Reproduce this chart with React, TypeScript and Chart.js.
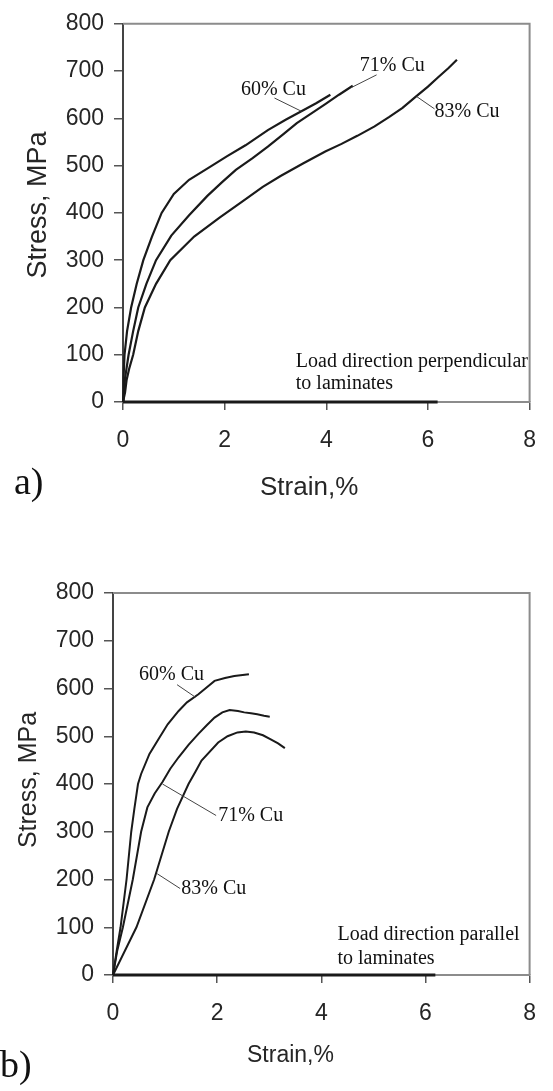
import React, { useEffect, useRef } from "react";
import { Chart, registerables } from "chart.js";

Chart.register(...registerables);

// ---------- axis ticks ----------
const strainTicks = [0, 2, 4, 6, 8];
const stressTicks = [0, 100, 200, 300, 400, 500, 600, 700, 800];

// ---------- a) load perpendicular to laminates ----------
const perp60Strain = [0, 0.01, 0.03, 0.08, 0.16, 0.27, 0.4, 0.57, 0.76, 1.0, 1.3, 1.72, 2.05, 2.41, 2.85, 3.2, 3.51, 3.8, 4.08];
const perp60Stress = [0, 50, 100, 150, 200, 250, 300, 350, 400, 440, 470, 498, 520, 543, 575, 597, 615, 632, 650];

const perp71Strain = [0, 0.04, 0.11, 0.2, 0.3, 0.46, 0.65, 0.95, 1.3, 1.66, 1.95, 2.22, 2.55, 2.85, 3.15, 3.42, 3.7, 3.98, 4.25, 4.52];
const perp71Stress = [0, 50, 100, 150, 200, 250, 300, 352, 395, 436, 465, 491, 516, 540, 566, 590, 610, 630, 650, 669];

const perp83Strain = [0, 0.04, 0.07, 0.12, 0.2, 0.3, 0.43, 0.65, 0.93, 1.4, 1.9, 2.4, 2.75, 3.1, 3.55, 3.98, 4.3, 4.61, 4.95, 5.24, 5.5, 5.75, 6.0, 6.19, 6.4, 6.57];
const perp83Stress = [0, 20, 46, 70, 100, 150, 200, 250, 300, 350, 390, 428, 455, 478, 505, 530, 546, 563, 583, 603, 622, 645, 667, 686, 706, 724];

// ---------- b) load parallel to laminates ----------
const par60Strain = [0, 0.07, 0.145, 0.26, 0.35, 0.41, 0.48, 0.54, 0.7, 0.89, 1.05, 1.26, 1.42, 1.64, 1.95, 2.15, 2.33, 2.61];
const par60Stress = [0, 50, 100, 200, 300, 348, 400, 421, 463, 497, 525, 553, 571, 588, 616, 622, 626, 630];

const par71Strain = [0, 0.08, 0.19, 0.38, 0.54, 0.66, 0.8, 0.95, 1.1, 1.26, 1.45, 1.64, 1.8, 1.95, 2.1, 2.24, 2.4, 2.52, 2.65, 2.77, 2.9, 3.01];
const par71Stress = [0, 50, 100, 200, 300, 351, 380, 404, 432, 456, 482, 505, 523, 539, 550, 555, 553, 550, 548, 546, 543, 541];

const par83Strain = [0, 0.45, 0.79, 1.07, 1.23, 1.45, 1.58, 1.7, 2.02, 2.2, 2.39, 2.55, 2.71, 2.88, 3.02, 3.17, 3.3];
const par83Stress = [0, 100, 200, 300, 348, 400, 425, 449, 487, 500, 508, 510, 508, 502, 494, 485, 475];

// dark line along zero stress (as in the figure)
const zeroStrain = [0, 6.19];
const zeroStress = [0, 0];

// ---------- annotation texts ----------
const labelCu60 = "60% Cu";
const labelCu71 = "71% Cu";
const labelCu83 = "83% Cu";
const notePerp = ["Load direction perpendicular", "to laminates"];
const notePar = ["Load direction parallel", "to laminates"];
const xTitle = "Strain,%";
const yTitle = "Stress, MPa";

type Note = { text: string; at: [number, number]; from?: [number, number]; to?: [number, number] };

const zip = (xs: number[], ys: number[]) => xs.map((x, i) => ({ x, y: ys[i] }));

const CURVE = "#1a1a1a";
const SANS = '"Liberation Sans", Arial, sans-serif';
const SERIF = '"Liberation Serif", "Times New Roman", serif';

type PanelCfg = {
  top: number;
  h: number;
  left: number;
  right: number;
  plotTop: number;
  plotBottom: number;
  series: { xs: number[]; ys: number[]; w: number }[];
  notes: Note[];
  block: { lines: string[]; at: [number, number]; gap: number };
  xTitle: { x: number; base: number; size: number };
  yTitle: { cx: number; cy: number; size: number };
  letter: { text: string; x: number; base: number };
};

const panels: PanelCfg[] = [
  {
    top: 0,
    h: 545,
    left: 123,
    right: 546,
    plotTop: 20,
    plotBottom: 402,
    series: [
      { xs: perp60Strain, ys: perp60Stress, w: 2.2 },
      { xs: perp71Strain, ys: perp71Stress, w: 2.2 },
      { xs: perp83Strain, ys: perp83Stress, w: 2.2 },
      { xs: zeroStrain, ys: zeroStress, w: 3 },
    ],
    notes: [
      { text: labelCu60, at: [2.32, 660], from: [2.98, 643], to: [3.51, 615] },
      { text: labelCu71, at: [4.66, 712], from: [4.99, 692], to: [4.49, 665] },
      { text: labelCu83, at: [6.13, 614], from: [6.13, 620], to: [5.78, 646] },
    ],
    block: { lines: notePerp, at: [3.4, 86], gap: 48 },
    xTitle: { x: 260, base: 495, size: 26 },
    yTitle: { cx: 39, cy: 205, size: 27 },
    letter: { text: "a)", x: 14, base: 494 },
  },
  {
    top: 545,
    h: 546,
    left: 113,
    right: 538,
    plotTop: 48,
    plotBottom: 430,
    series: [
      { xs: par60Strain, ys: par60Stress, w: 2 },
      { xs: par71Strain, ys: par71Stress, w: 2 },
      { xs: par83Strain, ys: par83Stress, w: 2 },
      { xs: zeroStrain, ys: zeroStress, w: 3 },
    ],
    notes: [
      { text: labelCu60, at: [0.5, 628], from: [1.23, 608], to: [1.58, 582] },
      { text: labelCu71, at: [2.02, 334], from: [0.95, 400], to: [1.98, 334] },
      { text: labelCu83, at: [1.31, 180], from: [0.85, 212], to: [1.29, 181] },
    ],
    block: { lines: notePar, at: [4.31, 84], gap: 49 },
    xTitle: { x: 247, base: 517, size: 23 },
    yTitle: { cx: 29, cy: 235, size: 25 },
    letter: { text: "b)", x: 0, base: 532 },
  },
];

function buildConfig(p: PanelCfg): any {
  const overlay = {
    id: "overlay",
    beforeDatasetsDraw(chart: any) {
      const { ctx, chartArea: ca } = chart;
      ctx.save();
      ctx.strokeStyle = "#8c8c8c";
      ctx.lineWidth = 2;
      ctx.beginPath();
      ctx.moveTo(ca.left, ca.top);
      ctx.lineTo(ca.right, ca.top);
      ctx.lineTo(ca.right, ca.bottom);
      ctx.stroke();
      ctx.restore();
    },
    afterDraw(chart: any) {
      const { ctx, scales } = chart;
      const X = (v: number) => scales.x.getPixelForValue(v);
      const Y = (v: number) => scales.y.getPixelForValue(v);
      ctx.save();
      ctx.strokeStyle = "#444";
      ctx.lineWidth = 1;
      ctx.fillStyle = "#111";
      ctx.font = `20px ${SERIF}`;
      ctx.textAlign = "left";
      ctx.textBaseline = "middle";
      for (const n of p.notes) {
        if (n.from && n.to) {
          ctx.beginPath();
          ctx.moveTo(X(n.from[0]), Y(n.from[1]));
          ctx.lineTo(X(n.to[0]), Y(n.to[1]));
          ctx.stroke();
        }
        ctx.fillText(n.text, X(n.at[0]), Y(n.at[1]));
      }
      p.block.lines.forEach((line, i) => {
        ctx.fillText(line, X(p.block.at[0]), Y(p.block.at[1] - i * p.block.gap));
      });
      ctx.fillStyle = "#262626";
      ctx.font = `${p.xTitle.size}px ${SANS}`;
      ctx.textBaseline = "alphabetic";
      ctx.fillText(xTitle, p.xTitle.x, p.xTitle.base);
      ctx.save();
      ctx.translate(p.yTitle.cx, p.yTitle.cy);
      ctx.rotate(-Math.PI / 2);
      ctx.textAlign = "center";
      ctx.textBaseline = "middle";
      ctx.font = `${p.yTitle.size}px ${SANS}`;
      ctx.fillText(yTitle, 0, 0);
      ctx.restore();
      ctx.fillStyle = "#111";
      ctx.font = `38px ${SERIF}`;
      ctx.textAlign = "left";
      ctx.fillText(p.letter.text, p.letter.x, p.letter.base);
      ctx.restore();
    },
  };

  return {
    type: "line",
    data: {
      datasets: p.series.map((s) => ({
        data: zip(s.xs, s.ys),
        borderColor: CURVE,
        borderWidth: s.w,
        pointRadius: 0,
        tension: 0,
        fill: false,
        clip: false,
      })),
    },
    options: {
      animation: false,
      responsive: false,
      devicePixelRatio: 1,
      layout: { padding: { left: 0, right: 553 - p.right, top: p.plotTop, bottom: 0 } },
      plugins: { legend: { display: false }, tooltip: { enabled: false } },
      scales: {
        x: {
          type: "linear",
          min: 0,
          max: 8,
          afterBuildTicks: (sc: any) => {
            sc.ticks = strainTicks.map((v) => ({ value: v }));
          },
          afterFit: (sc: any) => {
            sc.height = p.h - p.plotBottom;
          },
          ticks: {
            color: "#262626",
            font: { family: SANS, size: 23 },
            padding: 17,
            maxRotation: 0,
          },
          grid: {
            drawOnChartArea: false,
            drawTicks: true,
            tickLength: 8,
            color: "#555",
            lineWidth: 1.5,
          },
          border: { display: true, color: "#8c8c8c", width: 2 },
        },
        y: {
          type: "linear",
          min: 0,
          max: 800,
          afterBuildTicks: (sc: any) => {
            sc.ticks = stressTicks.map((v) => ({ value: v }));
          },
          afterFit: (sc: any) => {
            sc.width = p.left;
          },
          ticks: {
            color: "#262626",
            font: { family: SANS, size: 23 },
            padding: 10,
          },
          grid: {
            drawOnChartArea: false,
            drawTicks: true,
            tickLength: 9,
            color: "#555",
            lineWidth: 1.5,
          },
          border: { display: true, color: "#444", width: 2 },
        },
      },
    },
    plugins: [overlay],
  };
}

function Panel({ cfg }: { cfg: PanelCfg }) {
  const ref = useRef<HTMLCanvasElement>(null);
  useEffect(() => {
    const chart = new Chart(ref.current as HTMLCanvasElement, buildConfig(cfg));
    return () => chart.destroy();
  }, [cfg]);
  return (
    <canvas
      ref={ref}
      width={553}
      height={cfg.h}
      style={{ position: "absolute", left: 0, top: cfg.top, width: 553, height: cfg.h, display: "block" }}
    />
  );
}

export default function App() {
  return (
    <div style={{ position: "fixed", left: 0, top: 0, width: 553, height: 1091, background: "#fff", overflow: "hidden" }}>
      {panels.map((p, i) => (
        <Panel key={i} cfg={p} />
      ))}
    </div>
  );
}
